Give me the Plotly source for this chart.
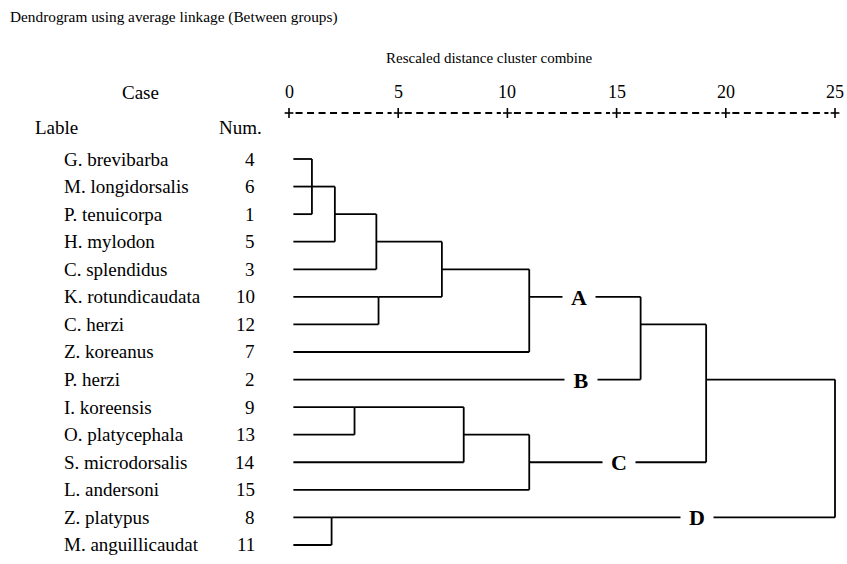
import plotly.graph_objects as go

# ---------------- data ----------------
species = ["G. brevibarba", "M. longidorsalis", "P. tenuicorpa", "H. mylodon",
           "C. splendidus", "K. rotundicaudata", "C. herzi", "Z. koreanus",
           "P. herzi", "I. koreensis", "O. platycephala", "S. microdorsalis",
           "L. andersoni", "Z. platypus", "M. anguillicaudat"]
case_num = [4, 6, 1, 5, 3, 10, 12, 7, 2, 9, 13, 14, 15, 8, 11]

# agglomeration steps: members (leaf row index or earlier step "mK"),
# rescaled joining distance, and the row on which the joined branch continues
merge_children = [[0, 1, 2], ["m0", 3], ["m1", 4], [5, 6], ["m2", "m3"],
                  ["m4", 7], ["m5", 8], [9, 10], ["m7", 11], ["m8", 12],
                  ["m6", "m9"], [13, 14], ["m10", "m11"]]
merge_dist = [1.05, 2.1, 4.0, 4.1, 7.0, 11.0, 16.1, 3.0, 8.0, 11.0, 19.1, 1.95, 25.0]
merge_row = [1, 2, 3, 5, 4, 5, 6, 9, 10, 11, 8, 13, None]

# cluster groups and the branch each one names
group_names = ["A", "B", "C", "D"]
group_branch = ["m5", 8, "m9", "m11"]

tick_vals = [0, 5, 10, 15, 20, 25]

# ---------------- layout helpers ----------------
W, H = 847, 564
X0_PX, UNIT_PX = 289.0, 21.84      # pixel of distance 0, pixels per distance unit
ROW0_PX, ROW_PX = 159.0, 27.57     # pixel of first row, row spacing
LEAF_START = 0.2                    # leaf lines start slightly right of 0

x_rng = [-X0_PX / UNIT_PX, (W - X0_PX) / UNIT_PX]
y_rng = [(H - ROW0_PX) / ROW_PX, -ROW0_PX / ROW_PX]


def row_of_px(ypx):
    return (ypx - ROW0_PX) / ROW_PX


def px(x):
    return x / W


def py(y):
    return 1 - y / H


FONT = "Liberation Serif"
TXT = 19

# ---------------- dendrogram branches ----------------
node_pos = {}   # node key -> (x end, row)
for i in range(len(species)):
    node_pos[i] = (LEAF_START, i)

xs, ys = [], []
for k, (kids, d, r) in enumerate(zip(merge_children, merge_dist, merge_row)):
    rows = []
    for c in kids:
        cx, cy = node_pos[c]
        xs += [cx, d, None]
        ys += [cy, cy, None]
        rows.append(cy)
    xs += [d, d, None]
    ys += [min(rows), max(rows), None]
    node_pos["m%d" % k] = (d, r)

fig = go.Figure()
fig.add_trace(go.Scatter(x=xs, y=ys, mode="lines",
                         line=dict(color="black", width=1.8),
                         hoverinfo="skip", showlegend=False))

# ---------------- distance scale (+----+----+) ----------------
axis_row = row_of_px(113)
tick_half = 5 / ROW_PX
dx, dy = [], []
px_, py_ = [], []
for a, b in zip(tick_vals[:-1], tick_vals[1:]):
    dx += [a + 0.3, b - 0.3, None]
    dy += [axis_row, axis_row, None]
for t in tick_vals:
    px_ += [t, t, None, t - 0.2, t + 0.2, None]
    py_ += [axis_row - tick_half, axis_row + tick_half, None, axis_row, axis_row, None]
fig.add_trace(go.Scatter(x=dx, y=dy, mode="lines",
                         line=dict(color="black", width=1.8, dash="7px,4.5px"),
                         hoverinfo="skip", showlegend=False))
fig.add_trace(go.Scatter(x=px_, y=py_, mode="lines",
                         line=dict(color="black", width=1.6),
                         hoverinfo="skip", showlegend=False))

ann = []
for t in tick_vals:
    ann.append(dict(x=t, y=row_of_px(92), xref="x", yref="y", text=str(t),
                    showarrow=False, xanchor="center", yanchor="middle",
                    font=dict(size=18, family=FONT, color="black")))

# ---------------- headings ----------------
ann.append(dict(x=px(8), y=py(17), xref="paper", yref="paper",
                text="Dendrogram using average linkage (Between groups)",
                showarrow=False, xanchor="left", yanchor="middle",
                font=dict(size=15.3, family=FONT, color="black")))
ann.append(dict(x=px(489), y=py(58), xref="paper", yref="paper",
                text="Rescaled distance cluster combine",
                showarrow=False, xanchor="center", yanchor="middle",
                font=dict(size=15, family=FONT, color="black")))
ann.append(dict(x=px(140), y=py(92), xref="paper", yref="paper", text="Case",
                showarrow=False, xanchor="center", yanchor="middle",
                font=dict(size=TXT, family=FONT, color="black")))
ann.append(dict(x=px(33), y=py(127), xref="paper", yref="paper", text="Lable",
                showarrow=False, xanchor="left", yanchor="middle",
                font=dict(size=TXT, family=FONT, color="black")))
ann.append(dict(x=px(217), y=py(127), xref="paper", yref="paper", text="Num.",
                showarrow=False, xanchor="left", yanchor="middle",
                font=dict(size=TXT, family=FONT, color="black")))

# ---------------- leaf labels ----------------
for i, (name, num) in enumerate(zip(species, case_num)):
    ann.append(dict(x=px(62), y=i, xref="paper", yref="y", text=name,
                    showarrow=False, xanchor="left", yanchor="middle",
                    font=dict(size=TXT, family=FONT, color="black")))
    ann.append(dict(x=px(257), y=i, xref="paper", yref="y", text=str(num),
                    showarrow=False, xanchor="right", yanchor="middle",
                    font=dict(size=TXT, family=FONT, color="black")))

# ---------------- group letters on their branches ----------------
label_x = {"A": 13.28, "B": 13.37, "C": 15.1, "D": 18.68}
for g, br in zip(group_names, group_branch):
    ann.append(dict(x=label_x[g], y=node_pos[br][1], xref="x", yref="y",
                    text="<b>%s</b>" % g, showarrow=False,
                    xanchor="center", yanchor="middle",
                    width=28, height=22, borderpad=2, bgcolor="white",
                    font=dict(size=22, family=FONT, color="black")))

fig.update_layout(
    width=W, height=H,
    margin=dict(l=0, r=0, t=0, b=0),
    paper_bgcolor="white", plot_bgcolor="white",
    xaxis=dict(range=x_rng, visible=False, fixedrange=True),
    yaxis=dict(range=y_rng, visible=False, fixedrange=True),
    annotations=ann,
    showlegend=False,
)

fig.write_html("out.html")
